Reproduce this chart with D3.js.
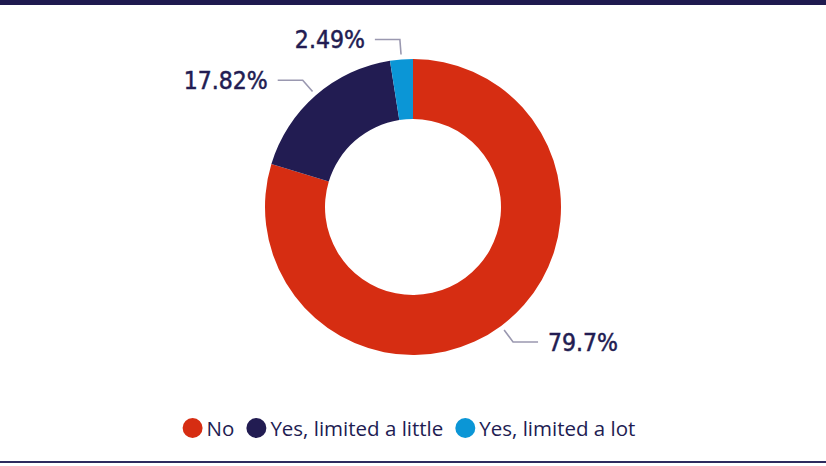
<!DOCTYPE html>
<html>
<head>
<meta charset="utf-8">
<script src="https://cdn.jsdelivr.net/npm/d3@7"></script>
<style>
  html, body { margin: 0; padding: 0; background: #fff; }
  svg { display: block; }
</style>
</head>
<body>
<svg id="chart" width="826" height="466"></svg>
<script>
// Survey answers and their shares (%)
const categories = ["No", "Yes, limited a little", "Yes, limited a lot"];
const shares = [79.7, 17.82, 2.49];
const labels = ["79.7%", "17.82%", "2.49%"];
const colors = ["#d62d12", "#221c52", "#0b96d6"];

const W = 826, H = 466;
const cx = 413, cy = 207;
const outerR = 148, innerR = 88;

const svg = d3.select("#chart");

// Frame: heavy rule on top, thin rule at the bottom
svg.append("rect").attr("x", 0).attr("y", 0).attr("width", W).attr("height", 5).attr("fill", "#1f1a4f");
svg.append("rect").attr("x", 0).attr("y", 461).attr("width", W).attr("height", 2).attr("fill", "#2e2a5e");

const data = categories.map((c, i) => ({ cat: c, value: shares[i], label: labels[i], color: colors[i] }));

const pie = d3.pie().value(d => d.value).sort(null);
const arcs = pie(data);
const arc = d3.arc().innerRadius(innerR).outerRadius(outerR);

const g = svg.append("g").attr("transform", `translate(${cx},${cy})`);

g.selectAll("path.slice")
  .data(arcs)
  .join("path")
  .attr("class", "slice")
  .attr("d", arc)
  .attr("fill", d => d.data.color);

// Leader lines and value labels
const startArc = d3.arc().innerRadius(outerR + 5).outerRadius(outerR + 5);
const elbowArc = d3.arc().innerRadius(outerR + 20).outerRadius(outerR + 20);
const hLen = 25, gap = 10;

arcs.forEach(a => {
  const mid = (a.startAngle + a.endAngle) / 2;
  const p0 = startArc.centroid(a);
  const p1 = elbowArc.centroid(a);
  const right = Math.sin(mid) >= 0;
  const p2 = [p1[0] + (right ? hLen : -hLen), p1[1]];
  g.append("polyline")
    .attr("points", [p0, p1, p2].map(p => p.join(",")).join(" "))
    .attr("fill", "none")
    .attr("stroke", "#9a98b0")
    .attr("stroke-width", 1.6);
  g.append("text")
    .attr("x", p2[0] + (right ? gap : -gap))
    .attr("y", p2[1])
    .attr("dy", "0.36em")
    .attr("text-anchor", right ? "start" : "end")
    .attr("font-family", "'DejaVu Sans Condensed', 'DejaVu Sans', sans-serif")
    .attr("font-size", 24.5)
    .attr("fill", "#221c52")
    .attr("stroke", "#221c52")
    .attr("stroke-width", 0.5)
    .text(a.data.label);
});

// Legend, centred under the donut
const legend = svg.append("g");
let x = 0;
const dotR = 10;
data.forEach(d => {
  const item = legend.append("g").attr("transform", `translate(${x},0)`);
  item.append("circle").attr("cx", dotR).attr("cy", 0).attr("r", dotR).attr("fill", d.color);
  const t = item.append("text")
    .attr("x", 2 * dotR + 4)
    .attr("y", 8)
    .attr("font-family", "'Open Sans', 'Noto Sans', sans-serif")
    .attr("font-size", 20.5)
    .attr("fill", "#221c52")
    .text(d.cat);
  x += 2 * dotR + 4 + t.node().getComputedTextLength() + 12;
});
const legendW = x - 12;
legend.attr("transform", `translate(${409 - legendW / 2},428)`);
</script>
</body>
</html>
